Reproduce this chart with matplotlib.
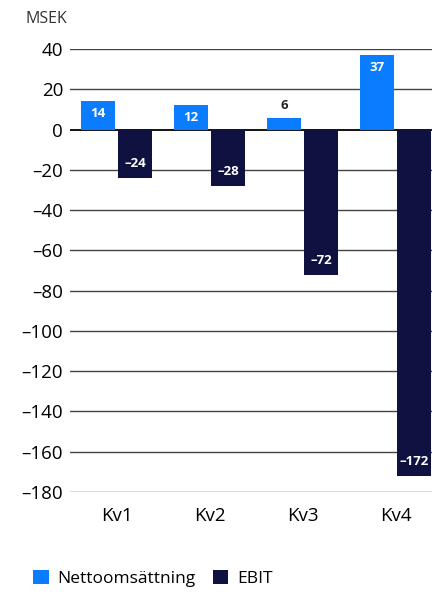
import matplotlib.pyplot as plt
import numpy as np

plt.rcParams['font.family'] = ['Open Sans', 'DejaVu Sans']

quarters = ['Kv1', 'Kv2', 'Kv3', 'Kv4']
netto = [14, 12, 6, 37]
ebit = [-24, -28, -72, -172]
yticks = list(range(-180, 41, 20))

blue = '#0A7CFF'
navy = '#0F1240'

fig = plt.figure(figsize=(4.32, 5.92), dpi=100)
ax = fig.add_axes([0.162, 0.169, 0.838, 0.748])

x = np.arange(len(quarters))
w = 0.366
off = 0.199
b1 = ax.bar(x - off, netto, w, color=blue, zorder=3, label='Nettoomsättning')
b2 = ax.bar(x + off, ebit, w, color=navy, zorder=3, label='EBIT')

def fmt(v):
    return str(v).replace('-', '\u2013')

for xi, v in zip(x - off, netto):
    if v >= 10:
        ax.text(xi, v - 6, fmt(v), ha='center', va='center', color='white',
                fontsize=9.5, fontweight='bold', zorder=4)
    else:
        ax.text(xi, v + 6, fmt(v), ha='center', va='center', color='#222222',
                fontsize=9.5, fontweight='bold', zorder=4)
for xi, v in zip(x + off, ebit):
    ax.text(xi, v + 7, fmt(v), ha='center', va='center', color='white',
            fontsize=9.5, fontweight='bold', zorder=4)

ax.set_ylim(-180, 40)
ax.set_xlim(-0.5, 3.39)
ax.set_yticks(yticks)
ax.set_yticklabels([fmt(t) for t in yticks], fontsize=13.5)
ax.set_xticks(x)
ax.set_xticklabels(quarters, fontsize=13.5)
ax.tick_params(length=0, pad=5)
ax.tick_params(axis='x', pad=11)
for s in ax.spines.values():
    s.set_visible(False)
for t in yticks:
    ax.axhline(t, color='black' if t == 0 else '#444444', lw=1.3 if t == 0 else 1.0, zorder=1)

fig.text(0.058, 0.968, 'MSEK', fontsize=11.5, color='#333333', va='center')

fig.legend(handles=[b1, b2], loc='lower left', bbox_to_anchor=(0.04, -0.018), ncol=2,
           frameon=False, fontsize=12.5, handlelength=0.9, handleheight=0.9,
           handletextpad=0.5, columnspacing=1.0)

fig.savefig('out.png', dpi=100)
